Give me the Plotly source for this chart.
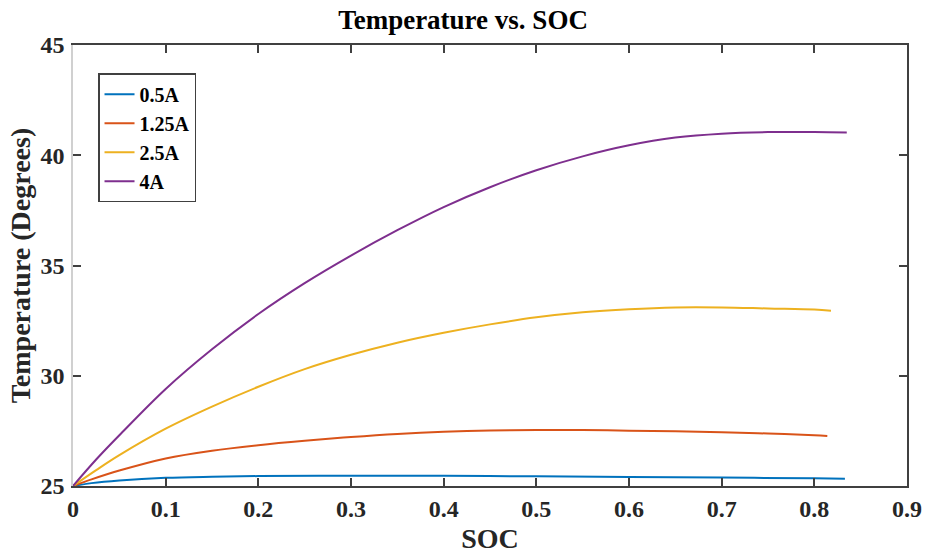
import plotly.graph_objects as go

soc_05 = [0, 0.02, 0.05, 0.1, 0.15, 0.2, 0.3, 0.4, 0.5, 0.6, 0.7, 0.8, 0.833]
temp_05 = [25, 25.13, 25.25, 25.37, 25.42, 25.45, 25.47, 25.46, 25.44, 25.41, 25.38, 25.35, 25.33]

soc_125 = [0, 0.02, 0.05, 0.1, 0.15, 0.2, 0.25, 0.3, 0.35, 0.4, 0.45, 0.5, 0.55, 0.6, 0.65, 0.7, 0.75, 0.8, 0.814]
temp_125 = [25, 25.3, 25.7, 26.25, 26.6, 26.85, 27.05, 27.22, 27.36, 27.46, 27.52, 27.54, 27.54, 27.51, 27.48, 27.44, 27.38, 27.3, 27.27]

soc_25 = [0, 0.025, 0.05, 0.1, 0.15, 0.2, 0.25, 0.3, 0.35, 0.4, 0.45, 0.5, 0.55, 0.6, 0.65, 0.7, 0.75, 0.8, 0.818]
temp_25 = [25, 25.72, 26.4, 27.6, 28.6, 29.5, 30.3, 30.95, 31.5, 31.95, 32.33, 32.65, 32.88, 33.02, 33.1, 33.1, 33.05, 33.0, 32.95]

soc_4 = [0, 0.025, 0.05, 0.1, 0.15, 0.2, 0.25, 0.3, 0.35, 0.4, 0.45, 0.5, 0.55, 0.6, 0.65, 0.7, 0.75, 0.8, 0.835]
temp_4 = [25, 26.2, 27.3, 29.4, 31.2, 32.8, 34.2, 35.45, 36.6, 37.65, 38.55, 39.32, 39.95, 40.45, 40.8, 40.98, 41.05, 41.05, 41.03]

series = [
    ("0.5A", soc_05, temp_05, "#0072BD"),
    ("1.25A", soc_125, temp_125, "#D95319"),
    ("2.5A", soc_25, temp_25, "#EDB120"),
    ("4A", soc_4, temp_4, "#7E2F8E"),
]

x_ticks = [0, 0.1, 0.2, 0.3, 0.4, 0.5, 0.6, 0.7, 0.8, 0.9]
y_ticks = [25, 30, 35, 40, 45]

FONT = "Liberation Serif"
DARK = "#404040"
fig = go.Figure()
for name, xs, ys, c in series:
    fig.add_trace(go.Scatter(x=xs, y=ys, mode="lines", name=name,
                             line=dict(color=c, width=2, shape="spline", smoothing=1.0)))
# invisible helper trace so the right-hand (dark) box edge axis is drawn
fig.add_trace(go.Scatter(x=[0, 0.9], y=[25, 45], yaxis="y2", mode="lines",
                         line=dict(width=0), opacity=0, showlegend=False, hoverinfo="skip"))

tickfont = dict(family=FONT, size=24, color="#262626", weight="bold")

fig.update_layout(
    width=926, height=554,
    margin=dict(l=73, r=19, t=45, b=68, autoexpand=False),
    paper_bgcolor="white", plot_bgcolor="white",
    title=dict(text="Temperature vs. SOC", x=0.5, xanchor="center",
               yref="container", y=1 - 20 / 554, yanchor="middle",
               font=dict(family=FONT, size=27, color="black", weight="bold")),
    xaxis=dict(range=[0, 0.9], tickvals=x_ticks, ticktext=[f"{v:g}" for v in x_ticks],
               showgrid=False, zeroline=False, showline=True, linecolor=DARK, linewidth=1.5,
               mirror="ticks", ticks="inside", ticklen=8, tickwidth=1.5, tickcolor=DARK,
               tickfont=tickfont, ticklabelstandoff=0, automargin=False,
               ticklabeloverflow="allow",
               title=dict(text="SOC", standoff=19,
                          font=dict(family=FONT, size=28, color="#262626", weight="bold"))),
    yaxis=dict(range=[25, 45], tickvals=y_ticks,
               showgrid=False, zeroline=False, showline=True, linecolor="#d0d0d0", linewidth=1.5,
               mirror=False, ticks="inside", ticklen=8, tickwidth=1.5, tickcolor=DARK,
               tickfont=tickfont, ticklabelstandoff=2, automargin=False,
               title=dict(text="Temperature (Degrees)", standoff=2,
                          font=dict(family=FONT, size=28, color="#262626", weight="bold"))),
    yaxis2=dict(range=[25, 45], tickvals=y_ticks, overlaying="y", side="right",
                showgrid=False, zeroline=False, showline=True, linecolor=DARK, linewidth=1.5,
                ticks="inside", ticklen=8, tickwidth=1.5, tickcolor=DARK, showticklabels=False,
                automargin=False),
    legend=dict(x=0.03, y=0.936, xanchor="left", yanchor="top",
                bgcolor="white", bordercolor=DARK, borderwidth=1.5,
                font=dict(family=FONT, size=20, color="black", weight="bold"),
                itemwidth=30, tracegroupgap=0),
    showlegend=True,
)

# remove the default 8px page margin so the figure fills the window exactly
fig.write_html("out.html", config={"displayModeBar": False},
               post_script="document.body.style.margin='0';")
